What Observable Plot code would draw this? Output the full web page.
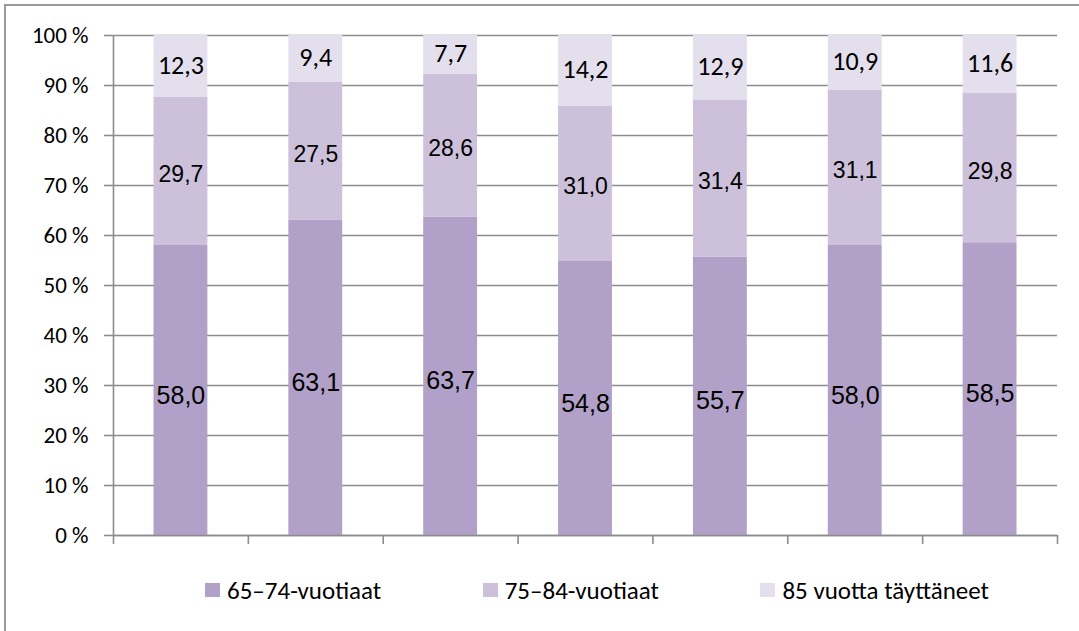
<!DOCTYPE html>
<html>
<head>
<meta charset="utf-8">
<script src="https://cdn.jsdelivr.net/npm/d3@7"></script>
<script src="https://cdn.jsdelivr.net/npm/@observablehq/plot@0.6"></script>
<style>
  html, body { margin: 0; padding: 0; background: #fff; }
  #wrap { position: relative; width: 1079px; height: 631px; overflow: hidden; }
  #border { position: absolute; left: 4px; top: 4px; width: 1090px; height: 650px; border: 2px solid #9a9a9a; box-sizing: border-box; pointer-events: none; }
  #chart { position: absolute; left: 0; top: 0; }
  #legend { position: absolute; left: 205px; width: 784px; top: 577px; height: 26px; display: flex; justify-content: space-between; align-items: center; font-family: Carlito, Calibri, Lato, sans-serif; font-size: 25px; color: #000; }
  .item { display: flex; align-items: center; white-space: nowrap; }
  .sw { width: 15px; height: 14px; margin-right: 7px; display: inline-block; }
</style>
</head>
<body>
<div id="wrap">
  <div id="border"></div>
  <div id="chart"></div>
  <div id="legend"></div>
</div>
<script>
// Data
const groups = [0, 1, 2, 3, 4, 5, 6];            // seven bars (no category labels)
const seriesNames = ["65–74-vuotiaat", "75–84-vuotiaat", "85 vuotta täyttäneet"];
const v6574 = [58.0, 63.1, 63.7, 54.8, 55.7, 58.0, 58.5];
const v7584 = [29.7, 27.5, 28.6, 31.0, 31.4, 31.1, 29.8];
const v85   = [12.3, 9.4, 7.7, 14.2, 12.9, 10.9, 11.6];
const yTickValues = [0, 10, 20, 30, 40, 50, 60, 70, 80, 90, 100];
const colors = ["#b1a0c7", "#ccc0da", "#e4dfec"];

const seriesValues = [v6574, v7584, v85];
const data = [];
groups.forEach((g, i) => {
  seriesNames.forEach((s, k) => {
    data.push({i: g, series: s, value: seriesValues[k][i]});
  });
});
const fmt = v => v.toFixed(1).replace(".", ",");
const yTicksN = yTickValues.map(t => t / 100);

const labelMark = (k, font, size, dy) => Plot.text(data, Plot.stackY({
  offset: "normalize",
  x: d => d.i + 0.5,
  y: "value",
  z: "series",
  text: d => d.series === seriesNames[k] ? fmt(d.value) : null,
  fontFamily: font,
  fontSize: size,
  fill: "#000",
  dy: dy
}));

const chart = Plot.plot({
  width: 1079,
  height: 560,
  marginLeft: 113,
  marginRight: 22,
  marginTop: 35,
  marginBottom: 25,
  style: {fontFamily: "Carlito, Calibri, Lato, sans-serif", fontSize: "23px", background: "transparent", color: "#000"},
  x: {domain: [0, groups.length], axis: null},
  y: {domain: [0, 1], axis: null},
  color: {domain: seriesNames, range: colors},
  marks: [
    Plot.ruleY(yTicksN, {stroke: "#8c8c8c", strokeWidth: 1.6}),
    Plot.rectY(data, Plot.stackY({
      offset: "normalize",
      x: "i",
      interval: 1,
      y: "value",
      z: "series",
      fill: "series",
      insetLeft: 40.5,
      insetRight: 40.5
    })),
    Plot.ruleX([0], {y1: 0, y2: 1, stroke: "#8c8c8c", strokeWidth: 1.6}),
    Plot.axisY({
      ticks: yTicksN,
      tickFormat: d => Math.round(d * 100) + " %",
      tickSize: 9,
      tickPadding: 16,
      label: null,
      stroke: "#8c8c8c",
      strokeWidth: 1.6,
      strokeOpacity: 1,
      fill: "#000",
      fontSize: 23,
      fontFamily: "Carlito, Calibri, Lato, sans-serif"
    }),
    Plot.axisX({
      ticks: d3.range(0, groups.length + 1),
      tickFormat: () => "",
      tickSize: 9,
      label: null,
      stroke: "#8c8c8c",
      strokeWidth: 1.6,
      strokeOpacity: 1
    }),
    Plot.ruleY([0], {stroke: "#8c8c8c", strokeWidth: 1.6}),
    labelMark(0, "Liberation Sans, Arial, sans-serif", 25, 5),
    labelMark(1, "Liberation Sans, Arial, sans-serif", 23, 3),
    labelMark(2, "Carlito, Calibri, Lato, sans-serif", 26, -1)
  ]
});
document.getElementById("chart").appendChild(chart);

const legend = document.getElementById("legend");
seriesNames.forEach((s, k) => {
  const item = document.createElement("div");
  item.className = "item";
  const sw = document.createElement("span");
  sw.className = "sw";
  sw.style.background = colors[k];
  const t = document.createElement("span");
  t.textContent = s;
  item.appendChild(sw);
  item.appendChild(t);
  legend.appendChild(item);
});
</script>
</body>
</html>
